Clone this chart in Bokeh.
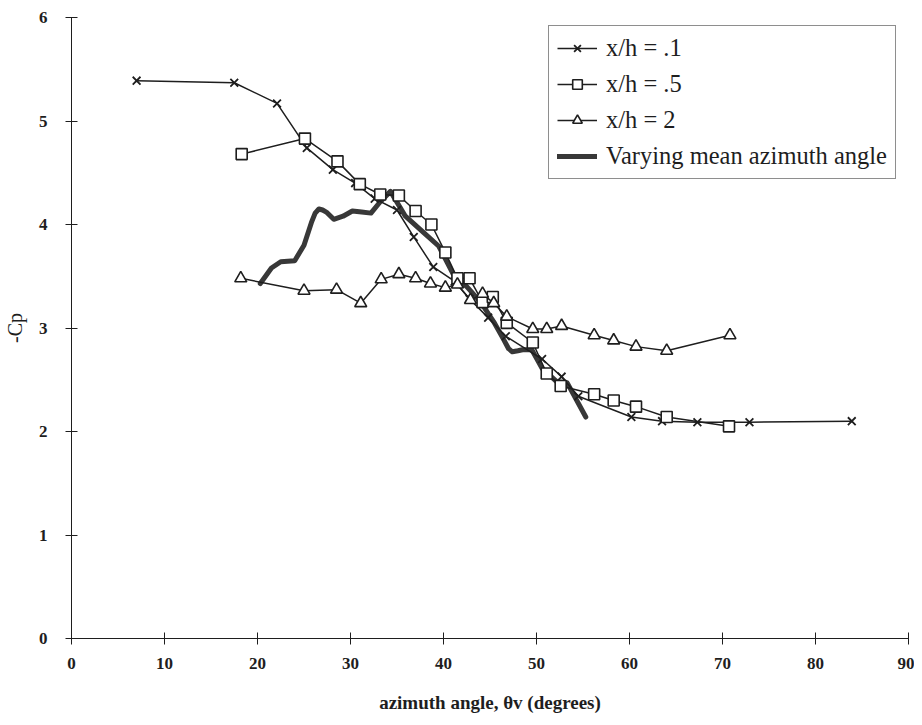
from bokeh.plotting import figure
from bokeh.models import Range1d, FixedTicker, Legend
from bokeh.embed import file_html
from bokeh.resources import INLINE

# data
x_h01 = [7.0, 17.5, 22.1, 25.3, 28.1, 30.5, 32.6, 35.0, 36.8, 38.9, 41.2, 42.8, 44.8, 46.7, 50.6, 52.7, 54.5, 60.2, 63.5, 67.3, 72.9, 83.9]
y_h01 = [5.39, 5.37, 5.17, 4.74, 4.53, 4.40, 4.25, 4.14, 3.88, 3.59, 3.45, 3.28, 3.10, 2.92, 2.70, 2.53, 2.34, 2.14, 2.10, 2.09, 2.09, 2.10]

x_h05 = [18.3, 25.1, 28.6, 31.0, 33.2, 35.2, 37.0, 38.7, 40.2, 41.5, 42.8, 44.2, 45.3, 46.8, 49.6, 51.1, 52.6, 56.2, 58.3, 60.7, 64.0, 70.7]
y_h05 = [4.68, 4.83, 4.61, 4.39, 4.29, 4.28, 4.13, 4.00, 3.73, 3.48, 3.48, 3.25, 3.30, 3.05, 2.86, 2.56, 2.44, 2.36, 2.30, 2.24, 2.14, 2.05]

x_h2 = [18.2, 25.0, 28.5, 31.1, 33.3, 35.2, 37.0, 38.6, 40.2, 41.5, 42.9, 44.2, 45.4, 46.8, 49.6, 51.1, 52.7, 56.2, 58.3, 60.7, 64.0, 70.8]
y_h2 = [3.48, 3.36, 3.37, 3.24, 3.47, 3.52, 3.48, 3.43, 3.39, 3.42, 3.27, 3.33, 3.24, 3.11, 2.99, 2.99, 3.02, 2.93, 2.88, 2.82, 2.78, 2.93]

x_vary = [20.3, 21.5, 22.5, 24.0, 25.0, 25.8, 26.2, 26.6, 27.0, 27.4, 28.2, 29.2, 30.2, 31.2, 32.2, 33.2, 34.3, 35.9, 37.9, 39.5, 41.1, 42.5, 44.0, 45.4, 46.4, 47.0, 47.4, 48.0, 48.5, 49.5, 50.6, 52.2, 53.3, 55.3]
y_vary = [3.43, 3.58, 3.64, 3.65, 3.80, 4.02, 4.11, 4.15, 4.14, 4.12, 4.05, 4.08, 4.13, 4.12, 4.11, 4.22, 4.32, 4.08, 3.92, 3.79, 3.51, 3.40, 3.25, 3.06, 2.90, 2.80, 2.77, 2.78, 2.79, 2.79, 2.61, 2.48, 2.47, 2.14]

x_ticks = [0, 10, 20, 30, 40, 50, 60, 70, 80, 90]
y_ticks = [0, 1, 2, 3, 4, 5, 6]

SERIF = "Liberation Serif"
INK = "#1e1e1e"

p = figure(width=914, height=715, output_backend="svg", toolbar_location=None,
           x_range=Range1d(0, 90), y_range=Range1d(0, 6),
           min_border_left=63, min_border_right=6, min_border_top=17, min_border_bottom=0)
p.outline_line_color = None
p.xgrid.visible = False
p.ygrid.visible = False
p.background_fill_color = "white"

for ax in (p.xaxis[0], p.yaxis[0]):
    ax.axis_line_color = INK
    ax.major_tick_line_color = INK
    ax.major_tick_in = 6
    ax.major_tick_out = 6
    ax.minor_tick_line_color = None
    ax.major_label_text_font = SERIF
    ax.major_label_text_font_style = "bold"
    ax.major_label_text_font_size = "17px"
    ax.major_label_text_color = INK
    ax.axis_label_text_font = SERIF
    ax.axis_label_text_color = INK

p.xaxis.ticker = FixedTicker(ticks=x_ticks)
p.yaxis.ticker = FixedTicker(ticks=y_ticks)
p.xaxis.major_label_standoff = 13
p.yaxis.major_label_standoff = 18
p.xaxis.axis_label = "azimuth angle, θv (degrees)"
p.xaxis.axis_label_text_font_style = "bold"
p.xaxis.axis_label_text_font_size = "19px"
p.xaxis.axis_label_standoff = 20
p.yaxis.axis_label = "-Cp"
p.yaxis.axis_label_text_font_style = "normal"
p.yaxis.axis_label_text_font_size = "20px"
p.yaxis.axis_label_standoff = 10

r_vary = p.line(x_vary, y_vary, line_color="#383838", line_width=5, line_join="round", line_cap="round")

l1 = p.line(x_h01, y_h01, line_color=INK, line_width=1.5)
m1 = p.scatter(x_h01, y_h01, marker="x", size=11, line_color=INK, line_width=1.8)
l2 = p.line(x_h05, y_h05, line_color=INK, line_width=1.5)
m2 = p.scatter(x_h05, y_h05, marker="square", size=11, line_color=INK, fill_color="white", line_width=1.6)
l3 = p.line(x_h2, y_h2, line_color=INK, line_width=1.5)
m3 = p.scatter(x_h2, y_h2, marker="triangle", size=12, line_color=INK, fill_color="white", line_width=1.6)

legend = Legend(items=[
    ("x/h = .1", [l1, m1]),
    ("x/h = .5", [l2, m2]),
    ("x/h = 2", [l3, m3]),
    ("Varying mean azimuth angle", [r_vary]),
], location=(477, 459))
legend.label_text_font = SERIF
legend.label_text_font_size = "24.5px"
legend.label_text_color = INK
legend.border_line_color = INK
legend.border_line_width = 1
legend.background_fill_alpha = 1
legend.glyph_width = 40
legend.glyph_height = 24
legend.label_height = 24
legend.label_standoff = 9
legend.spacing = 8
legend.padding = 8
legend.margin = 0
p.add_layout(legend, "center")

open("out.html", "w").write(file_html(p, INLINE))
